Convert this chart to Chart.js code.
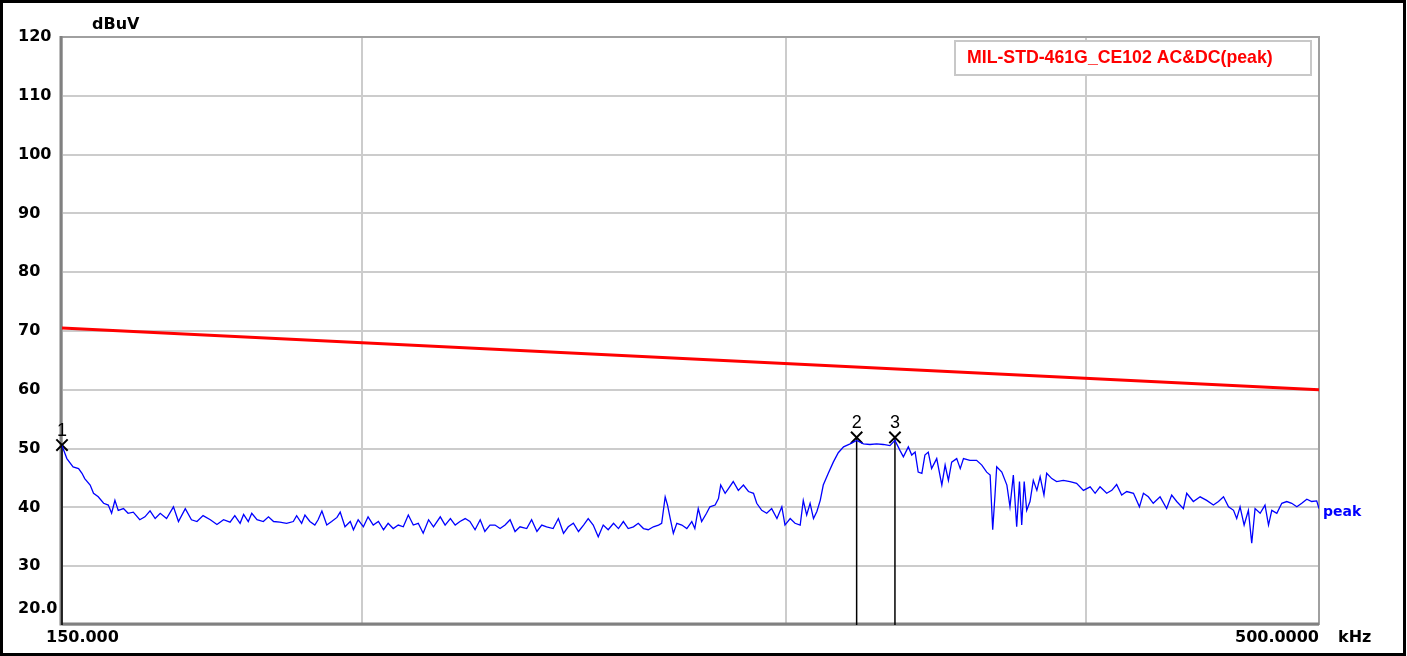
<!DOCTYPE html>
<html>
<head>
<meta charset="utf-8">
<script src="https://cdn.jsdelivr.net/npm/chart.js@4.4.1/dist/chart.umd.min.js"></script>
<style>
  html, body { margin: 0; padding: 0; background: #fff; }
  #wrap { width: 1407px; height: 656px; }
</style>
</head>
<body>
<div id="wrap"><canvas id="emiChart" width="1407" height="656"></canvas></div>
<script>
// Axis / tick data
const freqGrid = [150, 200, 300, 400, 500]
const levelTicks = [20, 30, 40, 50, 60, 70, 80, 90, 100, 110, 120]
const freqEndLabels = ['150.000', '500.0000']
const freqUnit = 'kHz'
const levelUnit = 'dBuV'
const bottomLevelLabel = '20.0'

// Limit line (MIL-STD-461G CE102)
const limitName = 'MIL-STD-461G_CE102 AC&DC(peak)'
const limitFreq = [150, 500]
const limitLevel = [70.5, 60.0]

const traceName = 'peak'
const traceFreq = [
  150.0, 150.7, 151.6, 152.4, 152.9, 153.3, 154.1, 154.6, 155.3, 156.1, 156.8, 157.3, 157.8, 158.3, 159.1, 159.8,
  160.6, 161.6, 162.4, 163.2, 164.0, 164.8, 165.8, 166.9, 167.7, 168.8, 169.8, 170.7, 171.7, 172.9, 174.0, 175.1,
  176.2, 177.0, 177.9, 178.5, 179.3, 179.9, 180.8, 181.9, 182.8, 183.7, 184.8, 186.0, 187.2, 187.8, 188.7, 189.3,
  190.2, 191.1, 191.7, 192.4, 193.3, 194.2, 195.2, 195.8, 196.7, 197.7, 198.3, 199.2, 200.2, 201.1, 202.1, 203.1,
  204.1, 205.0, 206.0, 207.0, 208.0, 209.0, 210.0, 211.0, 212.0, 213.1, 214.1, 215.5, 216.5, 217.6, 218.6, 219.6,
  220.7, 221.7, 222.8, 223.9, 224.9, 226.0,
  227.1, 228.2, 229.3, 230.4, 231.5, 232.6, 234.1, 235.2, 236.4, 237.5, 238.6, 240.1, 241.3, 242.5, 243.6, 244.8,
  246.0, 247.2, 248.3, 249.5, 250.7, 251.9, 253.1, 254.4, 255.6, 256.8, 258.0, 259.3, 260.5, 261.8, 263.0, 264.3,
  265.6, 266.4, 267.3, 267.9, 268.6, 269.4, 270.3, 271.6, 272.9, 274.2, 275.0, 275.9, 276.8, 278.1, 279.0, 280.4,
  281.3, 281.9, 283.1, 284.0, 285.3, 286.7, 288.1, 289.5, 290.9, 291.8, 293.2, 294.6, 296.0, 297.5, 298.9, 299.8,
  301.3, 302.7, 304.2, 305.1, 306.1, 307.1, 308.1, 309.1, 310.1, 311.0, 312.5, 314.0, 315.5, 317.1, 319.1, 321.1,
  323.2, 325.2, 327.3, 329.4, 331.5, 333.1,
  334.7, 335.8, 337.4, 338.5, 339.6, 340.6, 341.8, 342.8, 343.9, 345.0, 346.7, 348.4, 349.5, 350.6, 351.7, 353.4,
  354.6, 355.7, 357.9, 360.2, 362.0, 363.7, 364.9, 365.8, 366.6, 367.2, 369.0, 370.8, 371.9, 373.1, 374.3, 375.3,
  376.1, 377.0, 377.9, 379.1, 380.3, 381.6, 382.8, 384.2, 385.2, 387.1, 388.9, 391.4, 393.9, 396.4, 399.0, 401.6,
  403.5, 405.4, 408.0, 410.0, 411.9, 413.9, 415.9, 418.6, 421.0, 422.6, 424.6, 426.6, 429.4, 432.1, 434.2, 436.3,
  439.1, 440.5, 443.3, 446.2, 449.0, 451.9, 454.1, 456.3, 458.5, 460.7, 462.1, 463.6, 465.4, 467.3, 468.8, 470.3,
  472.6, 474.8, 476.4, 477.9, 480.2, 482.5, 484.8, 487.1, 489.5, 491.8, 494.2, 496.5, 498.9, 500.0
]
const traceLevel = [
  50.5, 48.3, 46.9, 46.6, 45.8, 44.9, 43.8, 42.4, 41.8, 40.7, 40.4, 39.0, 41.2, 39.5, 39.8, 39.0,
  39.2, 37.9, 38.4, 39.4, 38.1, 39.0, 38.1, 40.1, 37.6, 39.8, 37.9, 37.6, 38.6, 37.9, 37.1, 37.9,
  37.5, 38.6, 37.3, 38.8, 37.6, 39.0, 37.9, 37.6, 38.4, 37.6, 37.5, 37.3, 37.6, 38.6, 37.3, 38.7,
  37.6, 37.0, 37.9, 39.4, 37.0, 37.6, 38.3, 39.2, 36.7, 37.6, 36.2, 37.9, 36.7, 38.4, 37.0, 37.6,
  36.2, 37.3, 36.4, 37.0, 36.7, 38.7, 37.0, 37.3, 35.6, 37.9, 36.7, 38.4, 37.0, 38.1, 37.0, 37.6,
  38.1, 37.6, 36.2, 37.9, 35.9, 37.0,
  37.0, 36.4, 37.0, 37.9, 35.9, 36.7, 36.4, 37.9, 35.9, 37.0, 36.7, 36.4, 38.1, 35.6, 36.7, 37.3,
  35.9, 37.0, 38.1, 37.0, 35.0, 37.0, 36.2, 37.3, 36.4, 37.6, 36.4, 36.7, 37.3, 36.4, 36.2, 36.7,
  37.0, 37.3, 41.8, 40.4, 38.1, 35.6, 37.3, 37.0, 36.4, 37.6, 36.4, 39.8, 37.6, 39.0, 40.1, 40.4,
  41.5, 43.8, 42.4, 43.2, 44.4, 42.9, 43.8, 42.7, 42.4, 40.7, 39.5, 39.0, 39.8, 38.1, 40.1, 37.0,
  38.1, 37.3, 37.0, 41.2, 38.7, 40.7, 38.1, 39.3, 41.2, 43.8, 45.8, 47.7, 49.3, 50.3, 50.8, 51.4,
  50.8, 50.7, 50.8, 50.7, 50.5, 51.4,
  49.7, 48.6, 50.3, 48.9, 49.4, 46.0, 45.8, 48.9, 49.4, 46.6, 48.3, 43.8, 47.2, 44.6, 47.7, 48.3,
  46.6, 48.3, 48.0, 48.0, 47.2, 46.0, 45.5, 36.2, 42.1, 46.9, 46.0, 43.8, 40.1, 45.5, 36.7, 44.4,
  37.0, 44.4, 39.5, 41.0, 44.6, 42.9, 45.2, 42.1, 45.8, 44.9, 44.4, 44.6, 44.4, 44.1, 42.9, 43.5,
  42.4, 43.5, 42.4, 42.9, 43.9, 42.1, 42.7, 42.4, 40.1, 42.4, 41.8, 40.7, 41.8, 39.8, 42.1, 41.0,
  39.8, 42.4, 41.0, 41.8, 41.2, 40.4, 41.0, 41.8, 40.1, 39.5, 38.1, 40.1, 37.0, 39.5, 33.9, 39.8,
  39.0, 40.4, 37.0, 39.5, 39.0, 40.7, 41.0, 40.7, 40.1, 40.7, 41.4, 41.0, 41.1, 39.8
]

// Markers
const markerNames = ['1', '2', '3']
const markerFreq = [150.0, 321.1, 333.1]
const markerLevel = [50.6, 51.9, 51.9]

const toPoints = (xs, ys) => xs.map((x, i) => ({ x: x, y: ys[i] }))

const markerSets = markerFreq.map((f, i) => ({
  label: 'M' + markerNames[i],
  data: [{ x: f, y: levelTicks[0] }, { x: f, y: markerLevel[i] }],
  borderColor: '#000000',
  borderWidth: 1.5,
  pointRadius: [0, 8],
  pointStyle: 'crossRot',
  pointBorderColor: '#000000',
  pointBorderWidth: 2,
  clip: false,
  isMarker: true
}))

const axisFont = { family: 'DejaVu Sans', size: 16, weight: 'bold' }

const decorations = {
  id: 'decorations',
  beforeDraw(chart) {
    const { ctx, width, height } = chart
    ctx.save()
    ctx.fillStyle = '#ffffff'
    ctx.fillRect(0, 0, width, height)
    ctx.strokeStyle = '#000000'
    ctx.lineWidth = 3
    ctx.strokeRect(1.5, 1.5, width - 4, height - 3)
    ctx.restore()
  },
  beforeDatasetsDraw(chart) {
    const { ctx, chartArea: a } = chart
    ctx.save()
    ctx.strokeStyle = '#a0a0a0'
    ctx.lineWidth = 2
    ctx.beginPath()
    ctx.moveTo(a.left, a.top)
    ctx.lineTo(a.right, a.top)
    ctx.lineTo(a.right, a.bottom)
    ctx.stroke()
    ctx.strokeStyle = '#808080'
    ctx.lineWidth = 3
    ctx.beginPath()
    ctx.moveTo(a.left - 1, a.top - 1)
    ctx.lineTo(a.left - 1, a.bottom - 1)
    ctx.lineTo(a.right, a.bottom - 1)
    ctx.stroke()
    ctx.restore()
  },
  afterDatasetsDraw(chart) {
    const { ctx, chartArea: a, scales } = chart
    ctx.save()
    ctx.fillStyle = '#000000'
    ctx.font = 'bold 16px "DejaVu Sans"'
    ctx.textBaseline = 'middle'
    ctx.textAlign = 'left'
    ctx.fillText(levelUnit, 92, 25)
    ctx.fillText(bottomLevelLabel, 18, 609)
    ctx.fillText(freqEndLabels[0], a.left - 16, 638)
    ctx.fillText(freqUnit, a.right + 19, 638)
    ctx.textAlign = 'right'
    ctx.fillText(freqEndLabels[1], a.right, 638)

    // trace name at the end of the trace
    const lastY = scales.y.getPixelForValue(traceLevel[traceLevel.length - 1])
    ctx.fillStyle = '#0000ff'
    ctx.font = 'bold 14px "DejaVu Sans"'
    ctx.textAlign = 'left'
    ctx.fillText(traceName, a.right + 4, lastY + 4)

    // marker numbers
    ctx.fillStyle = '#000000'
    ctx.font = '18px "Liberation Sans"'
    ctx.textAlign = 'center'
    chart.data.datasets.forEach((ds, i) => {
      if (!ds.isMarker) return
      const pt = chart.getDatasetMeta(i).data[1]
      ctx.fillText(markerNames[markerSets.indexOf(ds)], pt.x, pt.y - 14)
    })

    // limit legend box
    const bx = a.right - 364, by = a.top + 4, bw = 356, bh = 34
    ctx.fillStyle = '#ffffff'
    ctx.fillRect(bx, by, bw, bh)
    ctx.strokeStyle = '#c8c8c8'
    ctx.lineWidth = 2
    ctx.strokeRect(bx, by, bw, bh)
    ctx.fillStyle = '#ff0000'
    ctx.font = 'bold 17.7px "Liberation Sans"'
    ctx.textAlign = 'left'
    ctx.fillText(limitName, bx + 12, by + bh / 2)
    ctx.restore()
  }
}

new Chart('emiChart', {
  type: 'line',
  data: {
    datasets: [
      {
        label: limitName,
        data: toPoints(limitFreq, limitLevel),
        borderColor: '#ff0000',
        borderWidth: 3,
        pointRadius: 0
      },
      {
        label: traceName,
        data: toPoints(traceFreq, traceLevel),
        borderColor: '#0000ff',
        borderWidth: 1.3,
        pointRadius: 0
      },
      ...markerSets
    ]
  },
  options: {
    responsive: false,
    animation: false,
    layout: { padding: { left: 18, top: 37, right: 88, bottom: 0 } },
    plugins: {
      legend: { display: false },
      tooltip: { enabled: false }
    },
    scales: {
      x: {
        type: 'logarithmic',
        min: 150,
        max: 500,
        afterBuildTicks: s => { s.ticks = freqGrid.map(v => ({ value: v })) },
        afterFit: s => { s.height = 31 },
        ticks: { display: false },
        grid: { color: '#cccccc', lineWidth: 2, drawTicks: false },
        border: { display: false }
      },
      y: {
        type: 'linear',
        min: 20,
        max: 120,
        afterBuildTicks: s => { s.ticks = levelTicks.map(v => ({ value: v })) },
        afterFit: s => { s.width = 44 },
        ticks: {
          color: '#000000',
          font: axisFont,
          crossAlign: 'far',
          padding: 0,
          callback: v => (v === levelTicks[0] ? '' : v)
        },
        grid: { color: '#cccccc', lineWidth: 2, drawTicks: false },
        border: { display: false }
      }
    }
  },
  plugins: [decorations]
})
</script>
</body>
</html>
